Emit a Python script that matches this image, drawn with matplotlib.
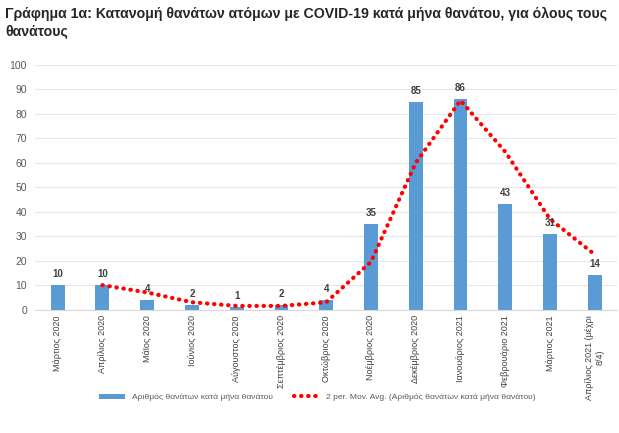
import matplotlib.pyplot as plt
import numpy as np

# =============================================================================
# Data
# =============================================================================

months = [
    "Μάρτιος 2020", "Απρίλιος 2020", "Μάϊος 2020", "Ιούνιος 2020",
    "Αύγουστος 2020", "Σεπτέμβριος 2020", "Οκτώβριος 2020", "Νοέμβριος 2020",
    "Δεκέμβριος 2020", "Ιανουάριος 2021", "Φεβρουάριο 2021", "Μάρτιος 2021",
    "Απρίλιος 2021 (μέχρι\n8/4)",
]
deaths = [10, 10, 4, 2, 1, 2, 4, 35, 85, 86, 43, 31, 14]
moving_avg = [np.nan, 10, 7, 3, 1.5, 1.5, 3, 19.5, 60, 85.5, 64.5, 37, 22.5]

title = ("Γράφημα 1α: Κατανομή θανάτων ατόμων με COVID-19 κατά μήνα θανάτου, για όλους τους\n"
         "θανάτους")

# =============================================================================
# Plot
# =============================================================================

plt.rcParams["font.family"] = ["Liberation Sans", "DejaVu Sans"]

fig = plt.figure(figsize=(6.19, 4.33), dpi=100)
ax = fig.add_axes([0.057, 0.285, 0.94, 0.565])

x = np.arange(len(deaths))
bars = ax.bar(x, deaths, width=0.31, color="#5b9bd5", zorder=2,
              label="Αριθμός θανάτων κατά μήνα θανάτου")
line, = ax.plot(x, moving_avg, color="#ff0000", linewidth=3, linestyle=(0, (0.1, 1.6)),
                dash_capstyle="round", zorder=3,
                label="2 per. Mov. Avg. (Αριθμός θανάτων κατά μήνα θανάτου)")

for xi, v in zip(x, deaths):
    ax.text(xi, v + 2.5, str(v), ha="center", va="bottom", fontsize=7,
            fontweight="bold", color="#404040", zorder=4)

ax.set_ylim(0, 100)
ax.set_xlim(-0.5, len(deaths) - 0.5)
ax.set_yticks(np.arange(0, 101, 10))
ax.set_xticks(x)
ax.set_xticklabels(months, rotation=90, fontsize=6.5, color="#404040")
ax.tick_params(axis="y", labelsize=7.5, colors="#595959", length=0, pad=6)
ax.tick_params(axis="x", length=0, pad=4)
ax.grid(axis="y", color="#e6e6e6", linewidth=0.8, zorder=0)
for s in ["top", "right", "left"]:
    ax.spines[s].set_visible(False)
ax.spines["bottom"].set_color("#d9d9d9")

fig.text(0.008, 0.985, title, ha="left", va="top", fontsize=10.2,
         fontweight="bold", color="#262626", linespacing=1.35)

fig.legend([bars, line], [bars.get_label(), line.get_label()],
           loc="center", bbox_to_anchor=(0.513, 0.082), ncol=2, frameon=False,
           fontsize=6.1, labelcolor="#595959", handlelength=3, columnspacing=2.5)

fig.savefig("out.png", dpi=100)
